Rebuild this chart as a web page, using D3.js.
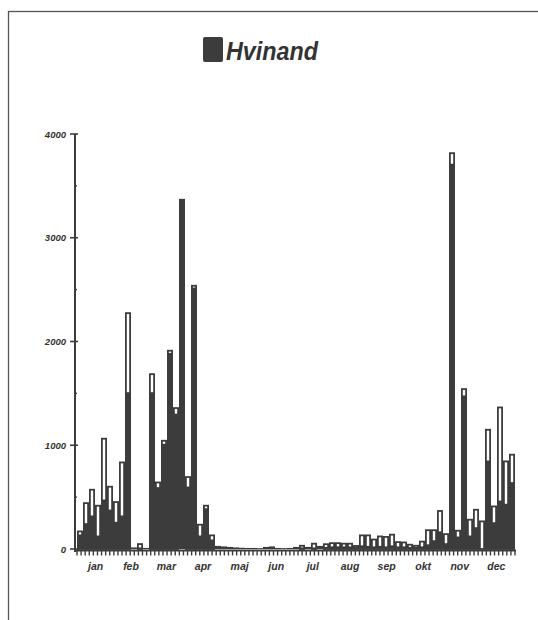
<!DOCTYPE html>
<html><head><meta charset="utf-8">
<script src="https://cdn.jsdelivr.net/npm/d3@7"></script>
<style>
html,body{margin:0;padding:0;background:#fff;}
svg{display:block;}
text{font-family:"Liberation Sans Narrow","Liberation Sans",Arial,sans-serif;font-weight:bold;font-style:italic;fill:#333;}
</style></head>
<body>
<script>
// 73 five-day periods through the year
const periods = d3.range(73);
// dark series (Hvinand)
const darkValues = [140,249,323,130,477,380,262,323,1511,15,15,10,1511,596,1014,1890,1304,3375,602,2520,130,393,92,
  30,25,20,15,12,10,10,8,20,25,10,8,10,20,15,20,15,30,20,
  25,25,25,25,20,35,30,25,30,25,35,25,25,20,20,25,45,84,170,56,
  3713,120,1480,130,210,0,853,258,467,436,644];
// outlined (white) series
const whiteValues = [178,451,580,426,1072,609,461,843,2282,0,56,0,1694,650,1052,1920,1367,0,702,2546,243,426,140,
  0,0,0,0,0,0,0,0,0,0,0,0,0,0,40,0,60,0,55,
  65,65,60,60,38,140,140,100,130,125,147,75,72,50,40,80,190,190,375,152,
  3824,185,1550,291,387,275,1158,419,1373,853,918];
const yTicks = [0,1000,2000,3000,4000];
const months = ["jan","feb","mar","apr","maj","jun","jul","aug","sep","okt","nov","dec"];
const monthDays = [31,28,31,30,31,30,31,31,30,31,30,31];
const title = "Hvinand";

const W = 538, H = 620;
const svg = d3.select("body").append("svg").attr("width", W).attr("height", H);
const ink = "#3c3c3c";

// frame
svg.append("rect").attr("x",8.5).attr("y",11.5).attr("width",600).attr("height",700)
  .attr("fill","none").attr("stroke","#555").attr("stroke-width",1.3);

const x = d3.scaleBand().domain(periods).range([77, 515]).padding(0);
const y = d3.scaleLinear().domain([0, 4000]).range([549, 134]);
const xDay = d3.scaleLinear().domain([0, 365]).range([77, 515]);

// white (outlined) bars
svg.append("g").selectAll("rect").data(periods.filter(i => whiteValues[i] > 0)).join("rect")
  .attr("x", i => x(i) + 0.9).attr("width", x.bandwidth() - 1.8)
  .attr("y", i => y(whiteValues[i]) + 0.9).attr("height", i => y(0) - y(whiteValues[i]) - 0.9)
  .attr("fill", "#fff").attr("stroke", ink).attr("stroke-width", 1.8);

// dark bars
svg.append("g").selectAll("rect").data(periods.filter(i => darkValues[i] > 0)).join("rect")
  .attr("x", i => x(i)).attr("width", x.bandwidth())
  .attr("y", i => y(darkValues[i])).attr("height", i => y(0) - y(darkValues[i]))
  .attr("fill", ink);

// y axis
const ya = svg.append("g");
ya.append("line").attr("x1",75).attr("x2",75).attr("y1",y(4000)).attr("y2",y(0)+3)
  .attr("stroke",ink).attr("stroke-width",2);
ya.selectAll("line.maj").data(yTicks).join("line").attr("class","maj")
  .attr("x1",70).attr("x2",78).attr("y1",d=>y(d)).attr("y2",d=>y(d))
  .attr("stroke",ink).attr("stroke-width",1.6);
ya.selectAll("line.min").data(d3.range(500,4000,1000)).join("line").attr("class","min")
  .attr("x1",74).attr("x2",77).attr("y1",d=>y(d)).attr("y2",d=>y(d))
  .attr("stroke",ink).attr("stroke-width",1.4);
ya.selectAll("text").data(yTicks).join("text")
  .attr("x",66).attr("y",d=>y(d)+3.5).attr("text-anchor","end")
  .attr("font-size",9.5).text(d=>d);

// x axis
const xa = svg.append("g");
xa.append("line").attr("x1",75).attr("x2",516).attr("y1",550.5).attr("y2",550.5)
  .attr("stroke",ink).attr("stroke-width",2.2);
const tickScale = d3.scaleLinear().domain([0,107]).range([77,515]);
xa.selectAll("line.t").data(d3.range(108)).join("line").attr("class","t")
  .attr("x1",d=>tickScale(d)).attr("x2",d=>tickScale(d)).attr("y1",550).attr("y2",555.5)
  .attr("stroke",ink).attr("stroke-width",1.4);
const cum = d3.cumsum(monthDays);
xa.selectAll("text").data(months).join("text")
  .attr("x",(d,i)=>xDay(cum[i]-monthDays[i]/2)).attr("y",570)
  .attr("text-anchor","middle").attr("font-size",10.5).text(d=>d);

// title with legend swatch
svg.append("rect").attr("x",203).attr("y",37).attr("width",20).attr("height",25).attr("rx",2)
  .attr("fill",ink);
svg.append("text").attr("x",226).attr("y",60).attr("font-size",25)
  .attr("textLength",92).attr("lengthAdjust","spacingAndGlyphs").text(title);
</script>
</body></html>
